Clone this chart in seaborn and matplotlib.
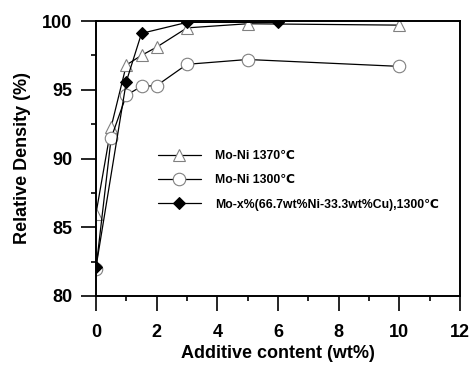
import numpy as np
import pandas as pd
import matplotlib
matplotlib.use("Agg")
import matplotlib.pyplot as plt
import seaborn as sns
from matplotlib.ticker import MultipleLocator

# datos
x_1370 = [0, 0.5, 1, 1.5, 2, 3, 5, 10]
y_1370 = [86.0, 92.3, 96.8, 97.5, 98.1, 99.5, 99.8, 99.7]

x_1300 = [0, 0.5, 1, 1.5, 2, 3, 5, 10]
y_1300 = [82.0, 91.5, 94.6, 95.25, 95.3, 96.85, 97.2, 96.7]

x_cu = [0, 1, 1.5, 3, 6]
y_cu = [82.1, 95.6, 99.1, 99.9, 99.9]

labels = ["Mo-Ni 1370\u2103", "Mo-Ni 1300\u2103",
          "Mo-x%(66.7wt%Ni-33.3wt%Cu),1300\u2103"]

sns.set_theme(style="ticks")
plt.rcParams['font.family'] = ['Liberation Sans', 'DejaVu Sans']
plt.rcParams['font.weight'] = 'bold'
plt.rcParams['text.color'] = 'black'
plt.rcParams['axes.labelcolor'] = 'black'
plt.rcParams['xtick.color'] = 'black'
plt.rcParams['ytick.color'] = 'black'

fig, ax = plt.subplots(figsize=(4.74, 3.67), dpi=100)
fig.subplots_adjust(left=96/474, right=460/474, top=1-21/367, bottom=1-296/367)

sns.lineplot(x=x_1370, y=y_1370, ax=ax, color='black', lw=0.9,
             marker='^', markersize=8.5, markerfacecolor='white',
             markeredgecolor='#808080', markeredgewidth=0.8, label=labels[0])
sns.lineplot(x=x_1300, y=y_1300, ax=ax, color='black', lw=0.9,
             marker='o', markersize=9, markerfacecolor='white',
             markeredgecolor='#808080', markeredgewidth=0.8, label=labels[1])
sns.lineplot(x=x_cu, y=y_cu, ax=ax, color='black', lw=0.9,
             marker='D', markersize=6.5, markerfacecolor='black',
             markeredgecolor='black', label=labels[2])

ax.set_xlim(0, 12)
ax.set_ylim(80, 100)
ax.xaxis.set_major_locator(MultipleLocator(2))
ax.xaxis.set_minor_locator(MultipleLocator(1))
ax.yaxis.set_major_locator(MultipleLocator(5))
ax.yaxis.set_minor_locator(MultipleLocator(2.5))
ax.tick_params(which='major', direction='out', length=11, width=1.2,
               labelsize=13, color='black', labelcolor='black')
ax.tick_params(which='minor', direction='out', length=3.6, width=1.2, color='black')
ax.tick_params(axis='x', which='major', pad=9)
ax.tick_params(axis='y', which='major', pad=6)
for lab in ax.get_xticklabels() + ax.get_yticklabels():
    lab.set_fontweight('bold')

for s in ax.spines.values():
    s.set_visible(True)
    s.set_color('black')
    s.set_linewidth(1.4)

ax.set_xlabel('Additive content (wt%)', fontsize=13, fontweight='bold', labelpad=3)
ax.set_ylabel('Relative Density (%)', fontsize=13, fontweight='bold', labelpad=8)

ax.legend(loc='upper left', bbox_to_anchor=(0.14, 0.57), frameon=False,
          prop={'size': 8.8, 'weight': 'bold'}, handlelength=3.5,
          labelspacing=1.0, handletextpad=1.2)

plt.savefig('out.png', dpi=100)
